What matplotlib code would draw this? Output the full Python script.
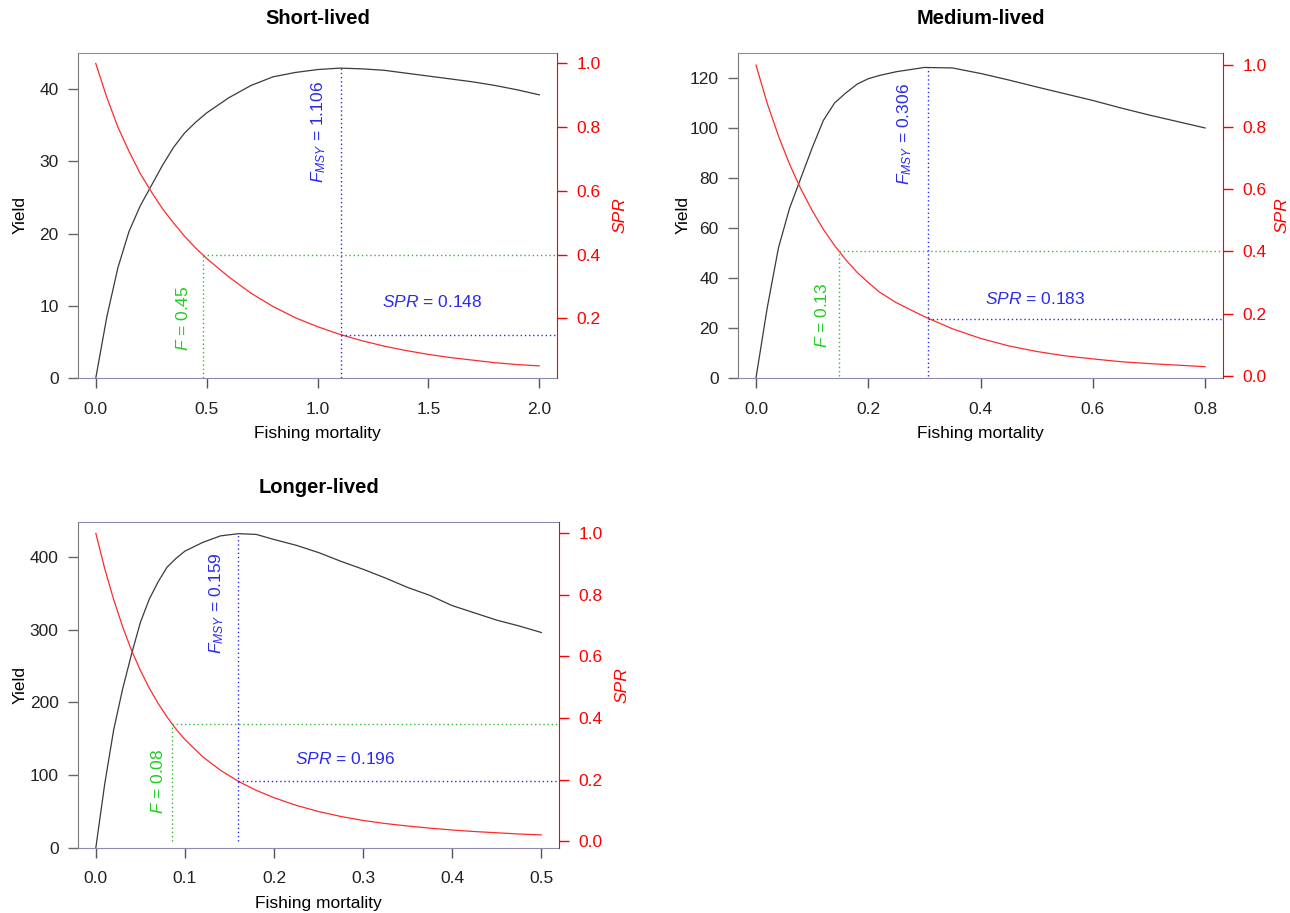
import numpy as np
import matplotlib.pyplot as plt

plt.rcParams['font.family'] = ['Liberation Sans', 'DejaVu Sans']
plt.rcParams['mathtext.fontset'] = 'custom'
plt.rcParams['mathtext.rm'] = 'Liberation Sans'
plt.rcParams['mathtext.it'] = 'Liberation Sans:italic'

titles = ['Short-lived', 'Medium-lived', 'Longer-lived']

# fishing mortality grid, yield and SPR
f_short = [0, 0.05, 0.1, 0.15, 0.2, 0.25, 0.3, 0.35, 0.4, 0.45, 0.5, 0.6, 0.7, 0.8,
           0.9, 1.0, 1.1, 1.2, 1.3, 1.4, 1.5, 1.6, 1.7, 1.8, 1.9, 2.0]
yield_short = [0, 8.5, 15.3, 20.3, 23.8, 26.6, 29.4, 31.9, 33.9, 35.4, 36.7, 38.8, 40.5,
               41.7, 42.3, 42.7, 42.9, 42.8, 42.6, 42.2, 41.8, 41.4, 41.0, 40.5, 39.9, 39.2]
spr_short = [1.0, 0.893, 0.80, 0.724, 0.655, 0.598, 0.545, 0.50, 0.458, 0.421, 0.388, 0.330,
             0.279, 0.237, 0.202, 0.174, 0.150, 0.130, 0.113, 0.099, 0.087, 0.077,
             0.069, 0.061, 0.055, 0.051]

f_medium = [0, 0.02, 0.04, 0.06, 0.08, 0.1, 0.12, 0.14, 0.16, 0.18, 0.2, 0.22, 0.25,
            0.3, 0.35, 0.4, 0.45, 0.5, 0.55, 0.6, 0.65, 0.7, 0.75, 0.8]
yield_medium = [0, 28, 52, 68, 80, 92, 103, 110, 114, 117.5, 119.7, 121, 122.5, 124.2,
                124, 121.8, 119.2, 116.4, 113.7, 111, 108, 105.2, 102.6, 100]
spr_medium = [1.0, 0.877, 0.772, 0.680, 0.601, 0.532, 0.471, 0.419, 0.373, 0.333, 0.300,
              0.269, 0.235, 0.190, 0.151, 0.120, 0.096, 0.078, 0.064, 0.054, 0.045,
              0.039, 0.034, 0.029]

f_long = [0, 0.01, 0.02, 0.03, 0.04, 0.05, 0.06, 0.07, 0.08, 0.09, 0.1, 0.12, 0.14,
          0.16, 0.18, 0.2, 0.225, 0.25, 0.275, 0.3, 0.325, 0.35, 0.375, 0.4, 0.425,
          0.45, 0.475, 0.5]
yield_long = [0, 88, 162, 218, 266, 310, 342, 366, 386, 398, 408, 420, 429, 432, 431,
              424, 416, 406, 394, 383, 371, 358, 347, 333, 323, 313, 305, 296]
spr_long = [1.0, 0.885, 0.785, 0.697, 0.620, 0.555, 0.497, 0.447, 0.403, 0.364, 0.330,
            0.274, 0.230, 0.194, 0.165, 0.141, 0.116, 0.096, 0.080, 0.067, 0.057,
            0.049, 0.042, 0.036, 0.031, 0.027, 0.023, 0.020]

# reference points
f_msy = [1.106, 0.306, 0.159]
spr_msy = [0.148, 0.183, 0.196]
f40_line = [0.485, 0.148, 0.085]
spr40_line = [0.40, 0.40, 0.38]
f40_label = ['0.45', '0.13', '0.08']

panels = [
    dict(f=f_short, y=yield_short, s=spr_short, rect=[0.0605, 0.586, 0.3713, 0.356],
         xlim=(-0.08, 2.08), ylim=(0, 45), slim=(0.013, 1.033),
         xt=np.arange(0, 2.01, 0.5), yt=np.arange(0, 41, 10), st=np.arange(0.2, 1.01, 0.2),
         t40=(0.395, 8.25), tmsy=(1.005, 34), tspr=(1.516, 10.55), ylab=-0.121, slab=1.131),
    dict(f=f_medium, y=yield_medium, s=spr_medium, rect=[0.5721, 0.586, 0.376, 0.356],
         xlim=(-0.032, 0.832), ylim=(0, 130), slim=(-0.0074, 1.039),
         xt=np.arange(0, 0.81, 0.2), yt=np.arange(0, 121, 20), st=np.arange(0, 1.01, 0.2),
         t40=(0.117, 25), tmsy=(0.265, 97.7), tspr=(0.497, 31.5), ylab=-0.113, slab=1.122),
    dict(f=f_long, y=yield_long, s=spr_long, rect=[0.0605, 0.0717, 0.3729, 0.3565],
         xlim=(-0.02, 0.52), ylim=(0, 448), slim=(-0.021, 1.037),
         xt=np.arange(0, 0.51, 0.1), yt=np.arange(0, 401, 100), st=np.arange(0, 1.01, 0.2),
         t40=(0.07, 91.7), tmsy=(0.136, 337), tspr=(0.28, 121.5), ylab=-0.121, slab=1.13),
]

box_col = '#8c8caa'
blue = '#2a2aee'
green = '#33bb33'
fs = 12.5

fig = plt.figure(figsize=(12.9, 9.13), dpi=100)

for i, p in enumerate(panels):
    ax = fig.add_axes(p['rect'])
    ax2 = ax.twinx()
    ax.set_xlim(*p['xlim'])
    ax.set_ylim(*p['ylim'])
    ax2.set_ylim(*p['slim'])

    ax.plot(p['f'], p['y'], color='#3a3a3a', lw=0.9)
    ax2.plot(p['f'], p['s'], color='#ff2a2a', lw=0.9)

    dot = (0, (1, 2))
    # F at SPR 40%
    ax2.plot([f40_line[i], f40_line[i]], [0, spr40_line[i]], color=green, lw=1, ls=dot)
    ax2.plot([f40_line[i], p['xlim'][1]], [spr40_line[i], spr40_line[i]], color=green, lw=1, ls=dot)
    # F_MSY line up to the yield curve
    pt = ax.transData.transform((f_msy[i], max(p['y'])))
    top = ax2.transData.inverted().transform(pt)[1]
    ax2.plot([f_msy[i], f_msy[i]], [0, top], color=blue, lw=1, ls=dot)
    ax2.plot([f_msy[i], p['xlim'][1]], [spr_msy[i], spr_msy[i]], color=blue, lw=1, ls=dot)

    ax.text(*p['t40'], r'$F$ = ' + f40_label[i], rotation=90, color='#22cc22',
            ha='center', va='center', fontsize=fs)
    ax.text(*p['tmsy'], r'$F_{MSY}$ = ' + f'{f_msy[i]:.3f}', rotation=90, color=blue,
            ha='center', va='center', fontsize=fs)
    ax.text(*p['tspr'], r'$SPR$ = ' + f'{spr_msy[i]:.3f}', color=blue,
            ha='center', va='center', fontsize=fs)

    ax.set_xticks(p['xt'])
    ax.set_xticklabels([f'{v:.1f}' for v in p['xt']])
    ax.set_yticks(p['yt'])
    ax.set_yticklabels([f'{v:.0f}' for v in p['yt']])
    ax2.set_yticks(p['st'])
    ax2.set_yticklabels([f'{v:.1f}' for v in p['st']])

    ax.tick_params(axis='x', length=7, width=1, color='#555555', pad=10, labelsize=fs,
                   labelcolor='#222222')
    ax.tick_params(axis='y', length=7, width=1, color='#666666', pad=7, labelsize=fs,
                   labelcolor='#222222')
    ax2.tick_params(axis='y', length=7, width=1, color='red', pad=7, labelsize=fs,
                    labelcolor='red')

    for side in ['top', 'bottom']:
        ax.spines[side].set_color(box_col)
    ax.spines['left'].set_color('#7a7a7a')
    ax.spines['right'].set_visible(False)
    for side in ['top', 'bottom', 'left']:
        ax2.spines[side].set_visible(False)
    ax2.spines['right'].set_color('red')

    ax.set_xlabel('Fishing mortality', fontsize=fs, va='center')
    ax.xaxis.set_label_coords(0.5, -0.172)
    ax.set_ylabel('Yield', fontsize=fs, va='center')
    ax.yaxis.set_label_coords(p['ylab'], 0.5)
    ax2.set_ylabel('SPR', fontsize=fs, color='red', style='italic', va='center')
    ax2.yaxis.set_label_coords(p['slab'], 0.5)

    ax.text(0.5, 1.105, titles[i], transform=ax.transAxes, ha='center', va='center',
            fontsize=14.5, fontweight='bold')

fig.savefig('out.png', dpi=100)
